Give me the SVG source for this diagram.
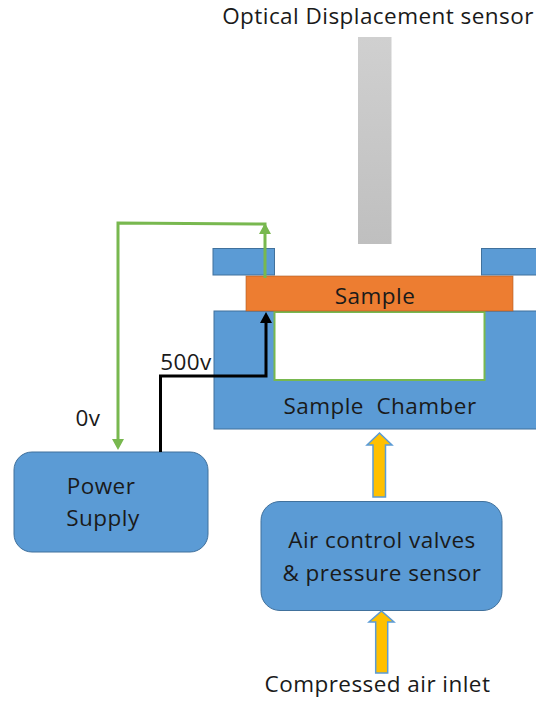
<svg xmlns="http://www.w3.org/2000/svg" width="536" height="702" viewBox="0 0 536 702">
<style>
text{font-family:"Open Sans","Noto Sans",sans-serif;font-size:22.500px;letter-spacing:.45px;fill:#1a1a1a;text-anchor:middle}
.b{fill:#5b9bd5;stroke:#41719c;stroke-width:1}
.y{fill:#ffc000;stroke:#5b9bd5;stroke-width:1.500}
.g{fill:none;stroke:#78b84f;stroke-width:3}
.k{fill:none;stroke:#000;stroke-width:3}
</style>
<defs>
<linearGradient id="sg" x1="0" y1="0" x2="0" y2="1"><stop offset="0" stop-color="#d0d0d0"/><stop offset="1" stop-color="#bfbfbf"/></linearGradient>
</defs>
<rect width="536" height="702" fill="#fff"/>
<g id="sensor"><rect x="358" y="37" width="33.500" height="207" fill="url(#sg)"/><text x="378" y="24">Optical Displacement sensor</text></g>
<g id="plate-left"><rect class="b" x="213" y="248.500" width="61.500" height="26.500"/></g>
<g id="plate-right"><rect class="b" x="481.500" y="248.500" width="56" height="26.500"/></g>
<g id="chamber"><rect class="b" x="214" y="311" width="324" height="118"/><rect x="274.500" y="312" width="210" height="68" fill="#fff" stroke="#78b84f" stroke-width="2"/><text x="380" y="414" xml:space="preserve">Sample  Chamber</text></g>
<g id="sample"><rect x="246" y="276" width="267" height="35" fill="#ed7d31" stroke="#ae5a21" stroke-opacity=".6"/><text x="375" y="304">Sample</text></g>
<g id="power"><rect class="b" x="14" y="452" width="194" height="100" rx="18"/><text x="101" y="494">Power</text><text x="103" y="526">Supply</text></g>
<g id="valves"><rect class="b" x="261" y="501.500" width="241" height="109" rx="19"/><text x="382" y="548">Air control valves</text><text x="382" y="581">&amp; pressure sensor</text></g>
<g id="connectors">
<path class="g" d="M265 278V224L118 223V440"/>
<path d="M265 223l6 11h-12zM118 450l-6-11h12z" fill="#78b84f"/>
<path class="k" d="M160.500 452V376H266V322"/>
<path d="M266 312l6 11h-12z" fill="#000"/>
<path class="y" d="M373 497V445H367L379.500 433 392 445H385.500V497Z"/>
<path class="y" d="M375.700 673V622H369L381.500 611 394 622H387.700V673Z"/>
</g>
<text x="186" y="370">500v</text>
<text x="88" y="426">0v</text>
<text x="377.500" y="692">Compressed air inlet</text>
</svg>
